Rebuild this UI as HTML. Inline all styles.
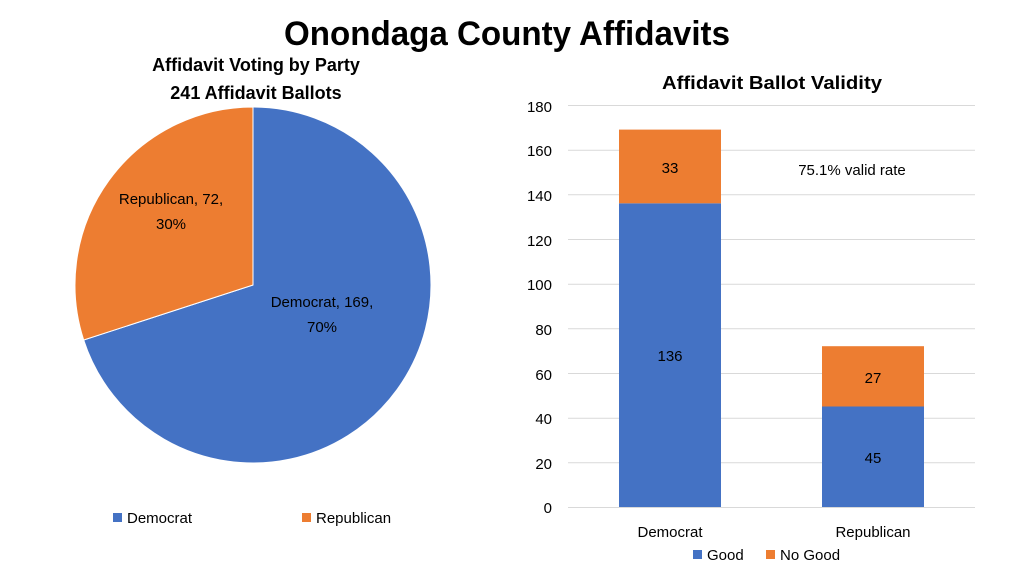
<!DOCTYPE html>
<html><head><meta charset="utf-8"><style>
body{margin:0;background:#fff;}
svg text{font-family:"Liberation Sans",sans-serif;}
</style></head><body>
<svg width="1024" height="576" xmlns="http://www.w3.org/2000/svg">
<rect width="1024" height="576" fill="#fff"/>
<text x="507" y="45" font-size="34" font-weight="bold" text-anchor="middle" fill="#000" textLength="446" lengthAdjust="spacingAndGlyphs">Onondaga County Affidavits</text>
<text x="256" y="71" font-size="18" font-weight="bold" text-anchor="middle">Affidavit Voting by Party</text>
<text x="256" y="99" font-size="18" font-weight="bold" text-anchor="middle">241 Affidavit Ballots</text>
<path d="M253,285 L253,107 A178,178 0 1 1 83.7,340 Z" fill="#4472C4" stroke="#fff" stroke-width="1"/>
<path d="M253,285 L83.7,340 A178,178 0 0 1 253,107 Z" fill="#ED7D31" stroke="#fff" stroke-width="1"/>
<text x="322" y="307" font-size="15" text-anchor="middle">Democrat, 169,</text>
<text x="322" y="332" font-size="15" text-anchor="middle">70%</text>
<text x="171" y="204" font-size="15" text-anchor="middle">Republican, 72,</text>
<text x="171" y="229" font-size="15" text-anchor="middle">30%</text>
<rect x="113" y="513" width="9" height="9" fill="#4472C4"/>
<text x="127" y="523" font-size="15">Democrat</text>
<rect x="302" y="513" width="9" height="9" fill="#ED7D31"/>
<text x="316" y="523" font-size="15">Republican</text>
<text x="772" y="89" font-size="18" font-weight="bold" text-anchor="middle" textLength="220" lengthAdjust="spacingAndGlyphs">Affidavit Ballot Validity</text>
<g stroke="#d9d9d9" stroke-width="1">
<line x1="568" x2="975" y1="105.5" y2="105.5"/>
<line x1="568" x2="975" y1="150.2" y2="150.2"/>
<line x1="568" x2="975" y1="194.8" y2="194.8"/>
<line x1="568" x2="975" y1="239.5" y2="239.5"/>
<line x1="568" x2="975" y1="284.2" y2="284.2"/>
<line x1="568" x2="975" y1="328.8" y2="328.8"/>
<line x1="568" x2="975" y1="373.5" y2="373.5"/>
<line x1="568" x2="975" y1="418.2" y2="418.2"/>
<line x1="568" x2="975" y1="462.8" y2="462.8"/>
<line x1="568" x2="975" y1="507.5" y2="507.5"/>
</g>
<g font-size="15" text-anchor="end">
<text x="552" y="112">180</text><text x="552" y="156">160</text><text x="552" y="201">140</text>
<text x="552" y="246">120</text><text x="552" y="290">100</text><text x="552" y="335">80</text>
<text x="552" y="380">60</text><text x="552" y="424">40</text><text x="552" y="469">20</text>
<text x="552" y="513">0</text>
</g>
<rect x="619" y="203.3" width="102" height="303.7" fill="#4472C4"/>
<rect x="619" y="129.6" width="102" height="73.7" fill="#ED7D31"/>
<rect x="822" y="406.5" width="102" height="100.5" fill="#4472C4"/>
<rect x="822" y="346.2" width="102" height="60.3" fill="#ED7D31"/>
<g font-size="15" text-anchor="middle">
<text x="670" y="173">33</text><text x="670" y="361">136</text>
<text x="873" y="383">27</text><text x="873" y="463">45</text>
<text x="852" y="175">75.1% valid rate</text>
<text x="670" y="537">Democrat</text><text x="873" y="537">Republican</text>
</g>
<rect x="693" y="550" width="9" height="9" fill="#4472C4"/>
<text x="707" y="560" font-size="15">Good</text>
<rect x="766" y="550" width="9" height="9" fill="#ED7D31"/>
<text x="780" y="560" font-size="15">No Good</text>
</svg>
</body></html>
